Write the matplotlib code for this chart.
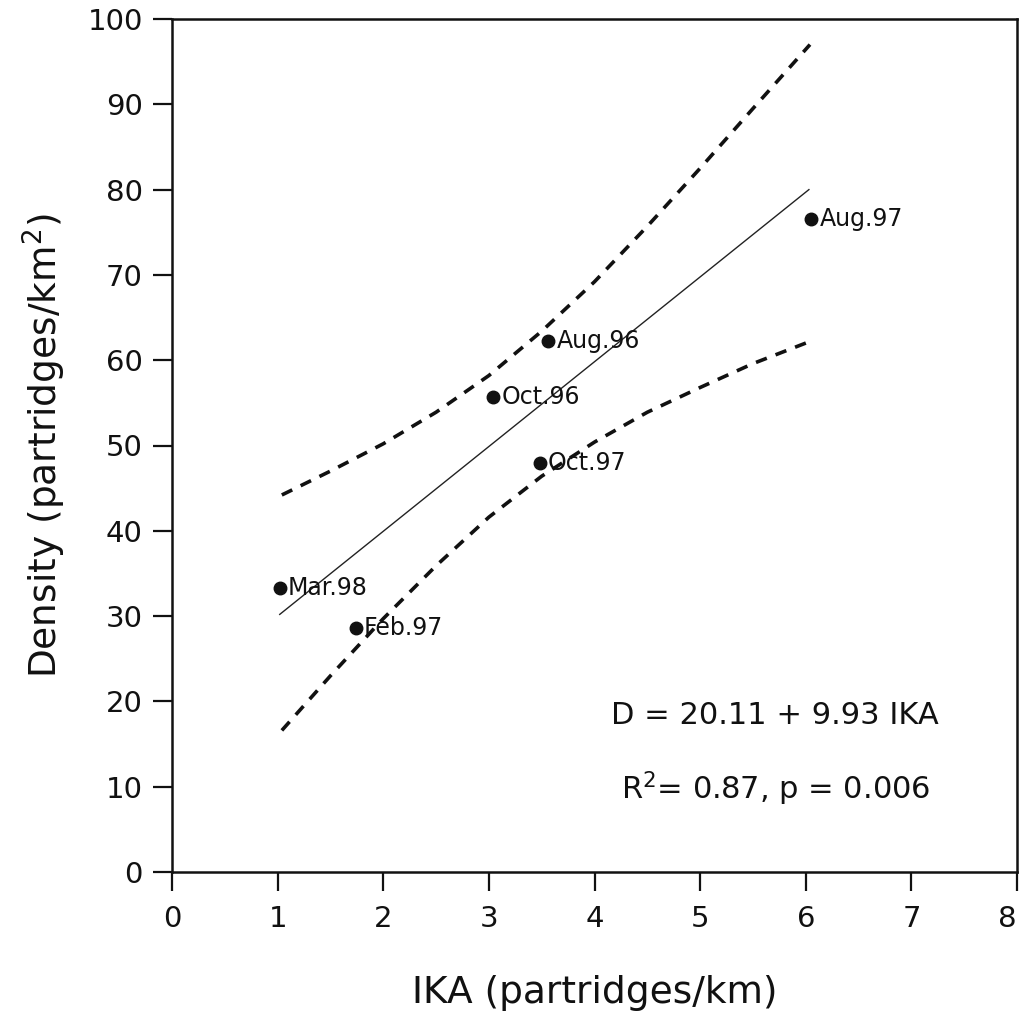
import matplotlib
matplotlib.use("Agg")
import matplotlib.pyplot as plt

# Observed data points
labels = ["Mar.98", "Feb.97", "Oct.96", "Aug.96", "Oct.97", "Aug.97"]
ika = [1.02, 1.74, 3.04, 3.56, 3.48, 6.05]
density = [33.3, 28.6, 55.7, 62.3, 48.0, 76.6]

# Regression line end points (D = 20.11 + 9.93 IKA)
fit_x = [1.02, 6.03]
fit_y = [30.2, 80.0]

# Confidence band
band_x = [1.04, 1.5, 2.0, 2.5, 3.0, 3.5, 4.0, 4.5, 5.0, 5.5, 6.04]
band_upper = [44.2, 47.0, 50.2, 53.9, 58.2, 63.4, 69.2, 75.7, 82.5, 89.5, 97.0]
band_lower = [16.6, 23.0, 29.7, 35.9, 41.6, 46.4, 50.4, 53.9, 56.8, 59.6, 62.2]

xticks = [0, 1, 2, 3, 4, 5, 6, 7, 8]
yticks = [0, 10, 20, 30, 40, 50, 60, 70, 80, 90, 100]

plt.rcParams['font.family'] = ['DejaVu Sans']

fig = plt.figure(figsize=(10.22, 10.19), dpi=100)
ax = fig.add_axes([172/1022, 147/1019, 845/1022, 853/1019])

ax.plot(fit_x, fit_y, color='#222222', lw=1.0)
ax.plot(band_x, band_upper, color='#111111', lw=2.6, linestyle=(0, (3.2, 2.6)))
ax.plot(band_x, band_lower, color='#111111', lw=2.6, linestyle=(0, (3.2, 2.6)))
ax.plot(ika, density, 'o', color='#111111', markersize=9, zorder=5)

for lab, x, y in zip(labels, ika, density):
    ax.annotate(lab, (x, y), xytext=(6, 0), textcoords='offset points',
                ha='left', va='center', fontsize=17, color='#111111')

ax.text(0.714, 0.183, "D = 20.11 + 9.93 IKA", transform=ax.transAxes,
        ha='center', va='center', fontsize=22, color='#111111')
ax.text(0.714, 0.098, "R$^{2}$= 0.87, p = 0.006", transform=ax.transAxes,
        ha='center', va='center', fontsize=22, color='#111111')

ax.set_xlim(0, 8)
ax.set_ylim(0, 100)
ax.set_xticks(xticks)
ax.set_yticks(yticks)
ax.tick_params(axis='both', direction='out', length=14, width=1.6,
               labelsize=21, colors='#111111')
ax.tick_params(axis='x', pad=10)
ax.tick_params(axis='y', pad=7)
xlabs = ax.get_xticklabels()
xlabs[-1].set_horizontalalignment('right')
for s in ax.spines.values():
    s.set_linewidth(1.8)
    s.set_color('#111111')

ax.set_xlabel("IKA (partridges/km)", fontsize=27, labelpad=30, color='#111111')
ax.set_ylabel("Density (partridges/km$^{2}$)", fontsize=27, labelpad=14, color='#111111')

fig.savefig("out.png", dpi=100)
